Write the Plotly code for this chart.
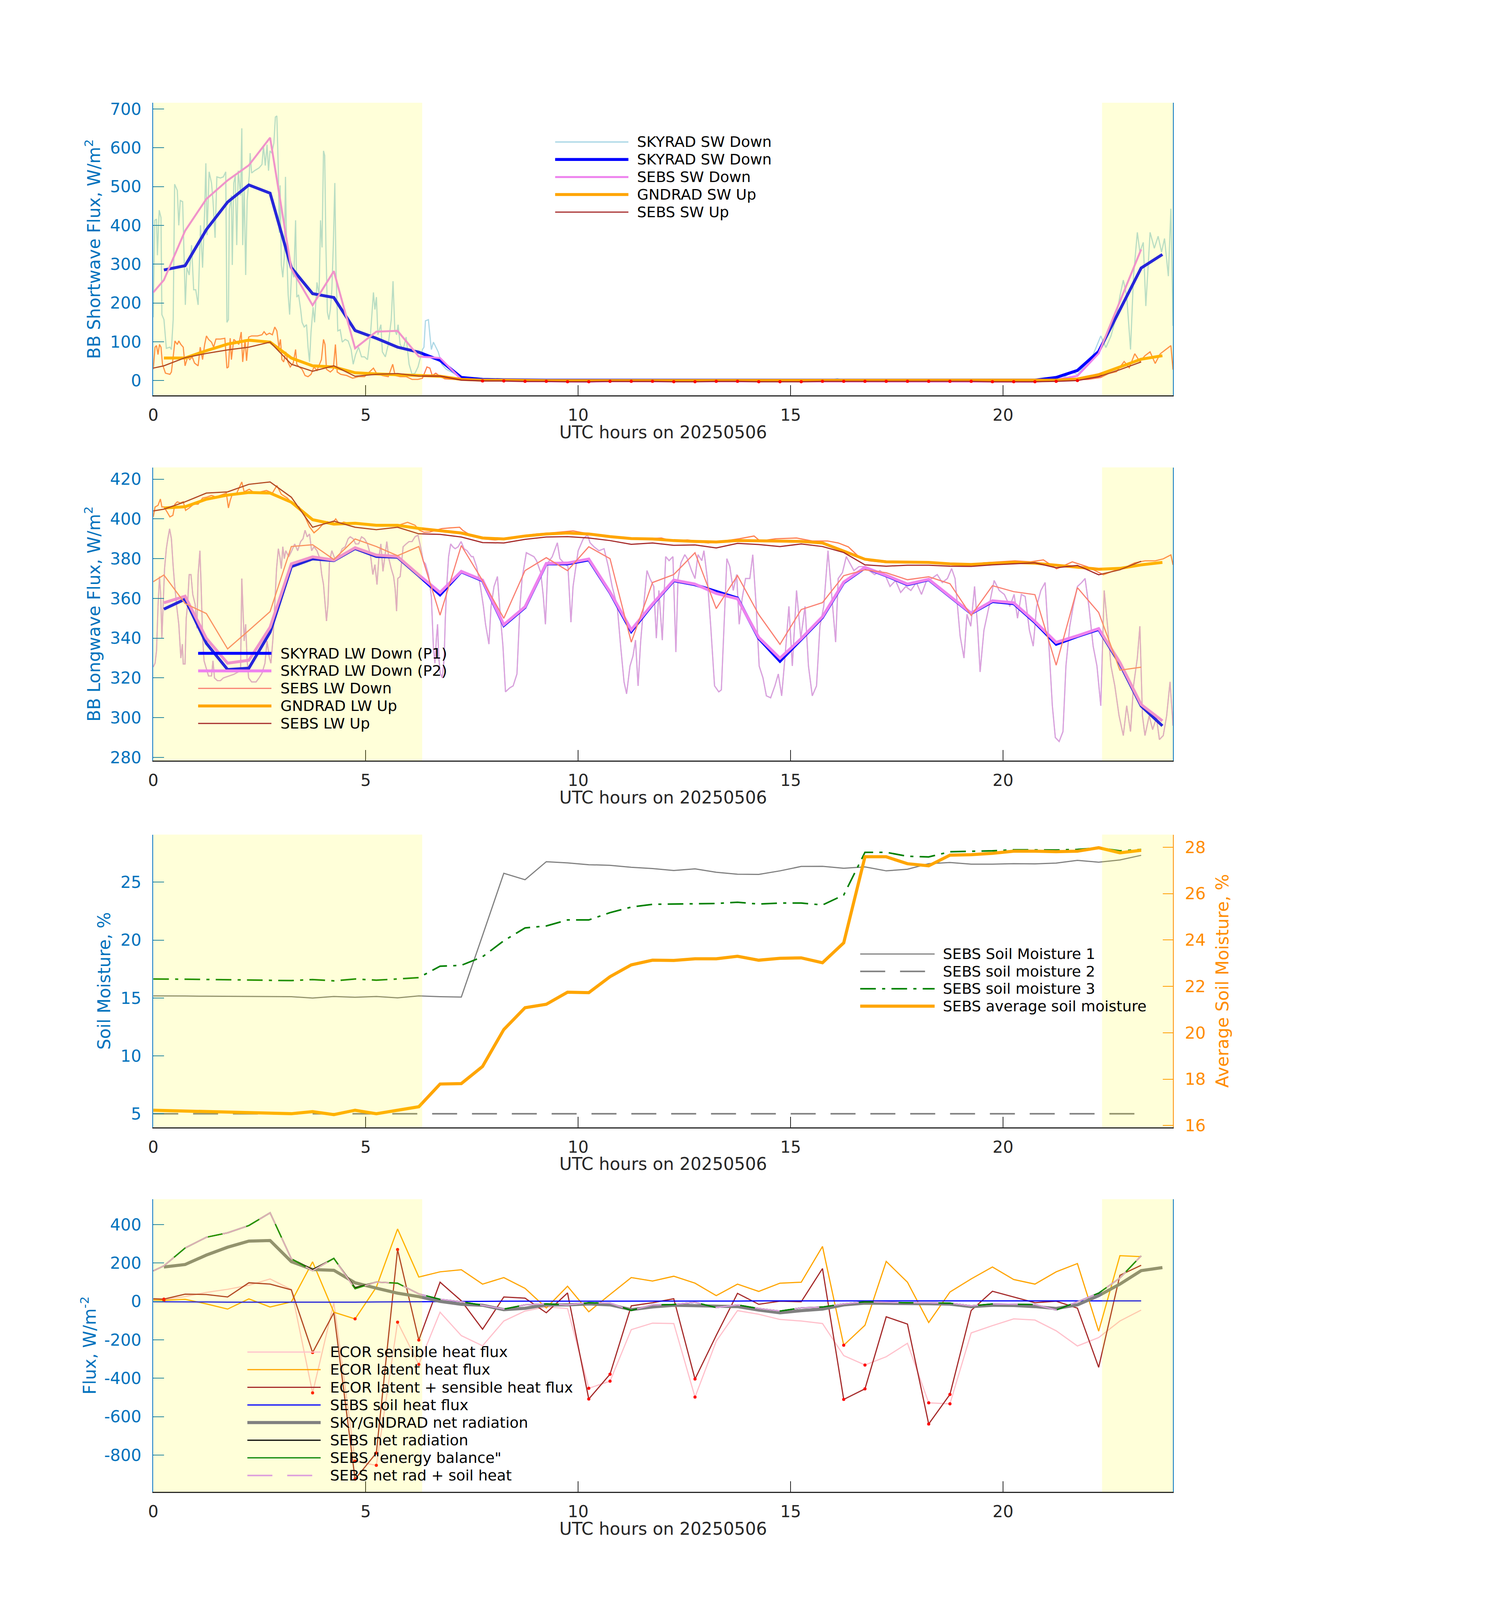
import plotly.graph_objects as go

FONT = "DejaVu Sans"
W, H = 3825, 4875          # reference frame used to place layout elements (converted to paper fractions)
BLUE_AX = "#0072BD"
DARK = "#262626"
ORANGE_AX = "#FF8C00"

# ---------------- time grids (UTC hours) ----------------
T_SKY = [0.25, 0.75, 1.25, 1.75, 2.25, 2.75, 3.25, 3.75, 4.25, 4.75, 5.25, 5.75,
         6.25, 6.75, 7.25, 7.75, 8.25, 8.75, 9.25, 9.75, 10.25, 10.75, 11.25, 11.75,
         12.25, 12.75, 13.25, 13.75, 14.25, 14.75, 15.25, 15.75, 16.25, 16.75, 17.25, 17.75,
         18.25, 18.75, 19.25, 19.75, 20.25, 20.75, 21.25, 21.75, 22.25, 22.75, 23.25, 23.75]
T_SEBS = [0.0, 0.25, 0.75, 1.25, 1.75, 2.25, 2.75, 3.25, 3.75, 4.25, 4.75, 5.25, 5.75,
          6.25, 6.75, 7.25, 7.75, 8.25, 8.75, 9.25, 9.75, 10.25, 10.75, 11.25, 11.75,
          12.25, 12.75, 13.25, 13.75, 14.25, 14.75, 15.25, 15.75, 16.25, 16.75, 17.25, 17.75,
          18.25, 18.75, 19.25, 19.75, 20.25, 20.75, 21.25, 21.75, 22.25, 22.75, 23.25]
X_TICKS = [0, 5, 10, 15, 20]
NIGHT_SHADE = [(0.0, 6.33), (22.33, 24.0)]

# ---------------- panel 1: shortwave ----------------
RAW_SW_DOWN = [(0.0, 163), (0.035, 413), (0.077, 416), (0.098, 323), (0.14, 439), (0.182, 420), (0.203, 170),
    (0.252, 157), (0.308, 83), (0.392, 86), (0.427, 80), (0.469, 157), (0.503, 506), (0.566, 490), (0.601, 400),
    (0.636, 464), (0.692, 461), (0.72, 349), (0.755, 195), (0.79, 291), (0.846, 272), (0.902, 349), (0.951, 234),
    (1.0, 234), (1.056, 195), (1.112, 400), (1.161, 291), (1.21, 439), (1.238, 560), (1.266, 375), (1.315, 538),
    (1.371, 509), (1.406, 464), (1.455, 368), (1.497, 525), (1.58, 522), (1.65, 525), (1.706, 538), (1.734, 150),
    (1.769, 157), (1.79, 439), (1.839, 477), (1.86, 298), (1.895, 509), (1.93, 528), (1.965, 349), (2.0, 541),
    (2.056, 477), (2.084, 650), (2.105, 349), (2.14, 496), (2.175, 272), (2.21, 464), (2.259, 528), (2.28, 586),
    (2.315, 535), (2.385, 541), (2.49, 548), (2.559, 557), (2.594, 605), (2.636, 554), (2.678, 608), (2.713, 541),
    (2.748, 592), (2.79, 586), (2.839, 612), (2.874, 679), (2.909, 682), (2.944, 541), (2.965, 381), (2.986, 503),
    (3.014, 298), (3.049, 266), (3.084, 317), (3.112, 525), (3.14, 336), (3.175, 221), (3.21, 170), (3.259, 285),
    (3.308, 266), (3.35, 413), (3.378, 215), (3.42, 221), (3.469, 183), (3.503, 150), (3.552, 138), (3.608, 144),
    (3.643, 86), (3.678, 48), (3.713, 125), (3.762, 189), (3.797, 150), (3.853, 253), (3.902, 221), (3.937, 413),
    (3.972, 343), (4.007, 592), (4.035, 580), (4.063, 349), (4.098, 176), (4.133, 157), (4.168, 183), (4.203, 234),
    (4.238, 349), (4.273, 509), (4.301, 285), (4.343, 128), (4.399, 131), (4.448, 99), (4.517, 106), (4.587, 102),
    (4.657, 80), (4.706, 42), (4.762, 67), (4.832, 86), (4.902, 61), (4.972, 61), (5.042, 54), (5.112, 118),
    (5.182, 227), (5.217, 183), (5.252, 215), (5.287, 118), (5.357, 144), (5.392, 74), (5.462, 61), (5.531, 93),
    (5.601, 157), (5.643, 256), (5.685, 131), (5.727, 118), (5.762, 144), (5.811, 93), (5.881, 80), (5.951, 112),
    (6.021, 42), (6.091, 16), (6.161, 19), (6.231, 35), (6.336, 80), (6.371, 86), (6.406, 154), (6.476, 157),
    (6.51, 118), (6.545, 80), (6.594, 99), (6.65, 86), (6.706, 74), (6.79, 42), (6.895, 29), (7.07, 19),
    (7.245, 6), (7.545, 1), (8.0, 1), (10.0, 1), (12.0, 1), (14.0, 1), (16.0, 2), (16.1, 5), (16.2, 1), (18.0, 1),
    (20.0, 1), (21.0, 2), (21.38, 4), (21.63, 23), (21.75, 15), (22.11, 64), (22.3, 115), (22.42, 85),
    (22.54, 115), (22.67, 167), (22.75, 218), (22.83, 259), (22.91, 218), (23.0, 80), (23.07, 269), (23.16, 382),
    (23.22, 331), (23.3, 356), (23.36, 192), (23.46, 382), (23.56, 341), (23.65, 372), (23.73, 331), (23.8, 366),
    (23.89, 269), (23.95, 443), (24.0, 141)]
RAW_GND_SW_UP = [(0.0, 29), (0.042, 86), (0.077, 90), (0.112, 67), (0.147, 93), (0.182, 86), (0.217, 42),
    (0.287, 19), (0.392, 16), (0.427, 22), (0.469, 61), (0.51, 102), (0.566, 93), (0.601, 102), (0.65, 93),
    (0.706, 86), (0.748, 38), (0.811, 61), (0.86, 54), (0.916, 61), (0.972, 45), (1.056, 38), (1.105, 86),
    (1.161, 54), (1.21, 93), (1.252, 115), (1.301, 106), (1.371, 99), (1.42, 86), (1.476, 107), (1.58, 107),
    (1.685, 109), (1.734, 32), (1.769, 35), (1.811, 109), (1.839, 54), (1.895, 106), (1.965, 99), (2.014, 93),
    (2.07, 125), (2.105, 48), (2.161, 106), (2.196, 51), (2.245, 112), (2.315, 115), (2.455, 115), (2.559, 118),
    (2.608, 126), (2.664, 118), (2.734, 122), (2.804, 118), (2.86, 138), (2.909, 128), (2.958, 86), (2.993, 106),
    (3.028, 54), (3.07, 48), (3.119, 74), (3.168, 48), (3.224, 35), (3.294, 45), (3.35, 80), (3.378, 42),
    (3.434, 35), (3.503, 29), (3.573, 13), (3.643, 10), (3.713, 16), (3.783, 35), (3.853, 26), (3.958, 54),
    (4.007, 106), (4.042, 93), (4.077, 29), (4.168, 22), (4.238, 29), (4.287, 93), (4.329, 22), (4.413, 16),
    (4.552, 13), (4.692, 6), (4.832, 10), (4.972, 10), (5.182, 32), (5.252, 19), (5.392, 13), (5.531, 10),
    (5.636, 42), (5.692, 13), (5.811, 10), (5.951, 10), (6.091, 3), (6.231, 3), (6.336, 6), (6.441, 35),
    (6.51, 32), (6.566, 13), (6.65, 19), (6.72, 13), (6.86, 4.5), (7.07, 3), (7.545, 0), (9.0, 0), (12.0, 0),
    (15.0, 0), (18.0, 0), (21.0, 0), (22.0, 3), (22.3, 8), (22.48, 18), (22.67, 23), (22.85, 49), (22.97, 33),
    (23.1, 69), (23.22, 49), (23.34, 64), (23.46, 74), (23.58, 44), (23.7, 69), (23.83, 80), (23.95, 90), (24.0, 28)]
SKY_SW_DOWN = [285, 296, 389, 460, 504, 483, 291, 224, 214, 129, 109, 86, 73, 52, 8, 3, 2, 1, 1, 1, 1, 2, 2, 1,
               1, 1, 2, 1, 1, 1, 1, 1, 2, 2, 2, 2, 2, 2, 2, 2, 1, 1, 8, 26, 75, 182, 290, 325]
SEBS_SW_DOWN = [227, 259, 386, 468, 516, 555, 626, 288, 194, 282, 83, 126, 128, 62, 58, 3, 1, -1, -2, -2, -3, -3,
                -2, -2, -2, -3, -3, -2, -2, -3, -3, -3, -3, -2, -2, -2, -2, -2, -2, -2, -2, -3, -3, 2, 12, 70, 205, 338]
GND_SW_UP = [58, 58, 77, 94, 104, 99, 58, 38, 35, 20, 17, 15, 13, 11, 3, 1, 1, 0, 0, 0, 0, 1, 1, 1, 0, 0, 0, 0,
             0, 0, 0, 0, 1, 1, 1, 1, 1, 1, 1, 1, 0, 0, 1, 4, 15, 35, 55, 64]
SEBS_SW_UP = [32, 38, 59, 70, 79, 86, 99, 42, 24, 38, 11, 16, 18, 11.5, 11.5, 1.3, -1, -1, -2, -2, -3, -3, -2, -2,
              -2, -3, -3, -2, -2, -3, -3, -3, -2, -2, -2, -2, -2, -2, -2, -2, -3, -3, -3, -2, 0, 10, 28, 48]
SEBS_SW_UP_FLAG = [0, 0, 0, 0, 0, 0, 0, 0, 0, 0, 0, 0, 0, 0, 0, 0, 1, 1, 1, 1, 1, 1, 1, 1, 1, 1, 1, 1, 1, 1, 1, 1,
                   1, 1, 1, 1, 1, 1, 1, 1, 1, 1, 1, 1, 1, 0, 0, 0]
SW_TICKS = [0, 100, 200, 300, 400, 500, 600, 700]

# ---------------- panel 2: longwave ----------------
RAW_LW_DOWN = [(0.0, 325.5), (0.042, 327.4), (0.077, 333.6), (0.112, 356), (0.147, 371), (0.175, 362), (0.203, 340),
    (0.231, 356), (0.266, 375), (0.308, 385), (0.343, 390), (0.385, 395), (0.427, 390), (0.469, 376), (0.503, 367),
    (0.552, 356), (0.601, 347), (0.65, 330), (0.685, 337), (0.706, 327), (0.748, 327), (0.776, 350), (0.804, 356),
    (0.846, 372), (0.888, 372), (0.93, 362), (0.986, 357), (1.028, 345), (1.056, 372), (1.098, 384), (1.126, 367),
    (1.161, 341), (1.196, 328.6), (1.245, 325), (1.301, 321), (1.371, 321), (1.406, 328.6), (1.441, 320),
    (1.51, 318.6), (1.58, 318.6), (1.65, 320), (1.72, 320.5), (1.79, 321), (1.895, 321.8), (2.0, 323), (2.056, 325),
    (2.084, 370), (2.112, 356), (2.14, 338.6), (2.175, 347), (2.21, 328.6), (2.245, 320), (2.315, 318), (2.42, 318),
    (2.49, 320), (2.559, 322.4), (2.629, 327.4), (2.678, 338.6), (2.734, 330), (2.769, 327.4), (2.818, 340),
    (2.86, 357), (2.902, 375), (2.944, 385), (2.979, 381), (3.014, 375), (3.049, 386), (3.084, 380), (3.119, 384),
    (3.189, 381), (3.259, 384), (3.329, 387.4), (3.399, 384), (3.469, 388.6), (3.524, 390), (3.573, 394.3),
    (3.622, 391), (3.678, 392.4), (3.727, 384), (3.783, 386), (3.853, 384), (3.923, 380), (3.965, 372), (4.007, 367),
    (4.042, 357), (4.077, 348.6), (4.112, 357), (4.147, 378.6), (4.203, 384), (4.273, 380), (4.329, 381), (4.385, 382),
    (4.448, 385), (4.517, 386), (4.587, 390), (4.636, 391), (4.706, 390), (4.762, 387.4), (4.832, 387.4), (4.902, 391),
    (4.972, 390), (5.042, 387.4), (5.112, 382), (5.168, 372), (5.217, 377), (5.266, 367), (5.308, 380), (5.357, 387.4),
    (5.406, 373.6), (5.448, 381), (5.497, 388.6), (5.545, 380), (5.601, 375), (5.657, 371), (5.692, 365),
    (5.727, 353.6), (5.755, 370), (5.811, 371), (5.881, 386), (5.951, 387.4), (6.021, 388.6), (6.091, 388.6),
    (6.161, 391), (6.231, 391.8), (6.301, 385), (6.357, 378.6), (6.406, 377.4), (6.476, 372), (6.545, 361),
    (6.594, 335), (6.629, 327.4), (6.664, 340), (6.692, 347), (6.72, 330), (6.755, 322.4), (6.804, 320), (6.846, 330),
    (6.874, 350), (6.909, 367), (6.951, 381), (7.0, 387.4), (7.049, 386), (7.105, 385), (7.175, 386), (7.245, 388.6),
    (7.315, 385), (7.385, 384), (7.49, 381), (7.53, 381), (7.61, 376), (7.70, 366), (7.77, 356), (7.82, 347),
    (7.90, 337), (7.95, 356), (8.02, 366), (8.10, 371), (8.17, 351), (8.23, 336), (8.29, 313), (8.39, 315),
    (8.47, 316), (8.56, 322), (8.63, 356), (8.68, 370), (8.78, 383), (8.87, 382), (8.96, 381), (9.02, 379),
    (9.12, 373), (9.18, 361), (9.23, 347), (9.29, 378), (9.39, 381), (9.51, 388), (9.57, 380), (9.66, 378),
    (9.76, 376), (9.83, 348), (9.88, 366), (10.0, 384), (10.12, 390), (10.22, 392), (10.28, 388), (10.37, 386),
    (10.49, 384), (10.61, 385), (10.71, 376), (10.80, 366), (10.92, 356), (11.0, 336), (11.08, 318), (11.14, 312),
    (11.22, 326), (11.29, 331), (11.35, 339), (11.41, 316), (11.47, 338), (11.54, 356), (11.62, 374), (11.69, 370),
    (11.78, 366), (11.84, 340), (11.90, 364), (11.98, 339), (12.06, 381), (12.14, 379), (12.23, 381), (12.30, 333),
    (12.35, 370), (12.42, 378), (12.51, 382), (12.57, 380), (12.67, 374), (12.75, 370), (12.82, 382), (12.91, 379),
    (12.96, 384), (13.04, 370), (13.12, 346), (13.21, 316), (13.31, 313), (13.37, 314), (13.43, 346), (13.50, 380),
    (13.57, 376), (13.65, 364), (13.73, 372), (13.79, 347), (13.86, 360), (13.94, 370), (14.04, 370), (14.11, 382),
    (14.19, 356), (14.26, 326), (14.35, 320), (14.43, 311), (14.53, 310), (14.63, 316), (14.71, 322), (14.79, 311),
    (14.87, 331), (14.96, 356), (15.04, 326), (15.14, 364), (15.24, 340), (15.34, 356), (15.42, 326), (15.51, 311),
    (15.61, 316), (15.69, 346), (15.78, 356), (15.88, 384), (15.95, 366), (16.06, 338), (16.12, 370), (16.22, 373),
    (16.31, 381), (16.39, 378), (16.49, 374), (16.61, 376), (16.73, 376), (16.85, 374), (16.98, 372), (17.10, 374),
    (17.22, 372), (17.34, 366), (17.47, 369), (17.59, 363), (17.71, 366), (17.83, 364), (17.96, 368), (18.08, 362),
    (18.20, 369), (18.32, 370), (18.45, 372), (18.57, 368), (18.69, 370), (18.79, 375), (18.87, 370), (18.99, 341),
    (19.08, 330), (19.15, 352), (19.24, 346), (19.33, 366), (19.40, 346), (19.46, 323), (19.55, 344), (19.67, 356),
    (19.79, 369), (19.91, 364), (20.03, 362), (20.16, 356), (20.26, 362), (20.34, 350), (20.43, 362), (20.52, 361),
    (20.62, 344), (20.71, 336), (20.79, 356), (20.89, 364), (20.99, 368), (21.08, 336), (21.16, 306), (21.23, 290),
    (21.32, 288), (21.41, 293), (21.48, 326), (21.57, 346), (21.65, 356), (21.75, 366), (21.85, 368), (21.93, 370),
    (22.02, 356), (22.12, 336), (22.21, 326), (22.30, 306), (22.38, 364), (22.46, 346), (22.54, 326), (22.63, 316),
    (22.73, 301), (22.83, 291), (22.91, 306), (23.0, 293), (23.07, 316), (23.16, 330), (23.22, 346), (23.28, 301),
    (23.34, 291), (23.44, 301), (23.52, 294), (23.61, 300), (23.68, 289), (23.77, 291), (23.85, 301), (23.93, 318),
    (24.0, 296)]
RAW_GND_LW_UP = [(0.0, 401), (0.042, 406), (0.112, 406.8), (0.168, 410), (0.203, 406), (0.252, 406), (0.322, 403.6),
    (0.392, 401), (0.462, 401.8), (0.51, 407.4), (0.566, 408.6), (0.636, 408), (0.706, 408.6), (0.762, 404.3),
    (0.846, 405.5), (0.951, 407.4), (1.056, 407.4), (1.161, 410.5), (1.266, 411), (1.371, 411.8), (1.476, 411),
    (1.58, 411.8), (1.72, 413), (1.769, 405.5), (1.811, 409.3), (1.86, 412.4), (1.965, 413), (2.084, 418.6),
    (2.14, 413.6), (2.259, 414.9), (2.385, 413), (2.524, 413.6), (2.664, 414.3), (2.804, 413), (2.909, 416.8),
    (3.014, 412.4), (3.154, 410.5), (3.294, 407.4), (3.434, 406), (3.573, 401), (3.678, 396), (3.783, 393),
    (3.888, 394.9), (3.993, 397.4), (4.098, 398.6), (4.203, 397.4), (4.294, 400), (4.378, 397.4), (4.483, 398.4),
    (4.622, 397.6), (4.762, 397.6), (4.972, 397.1), (5.182, 396.8), (5.392, 396.8), (5.601, 396.8), (5.811, 397.1),
    (5.986, 398.3), (6.161, 396.8), (6.266, 394.3), (6.371, 393.3), (6.51, 393.4), (6.65, 394.3), (6.79, 395.1),
    (7.0, 395.5), (7.21, 395.8), (7.28, 394.3), (7.42, 392.4), (7.74, 390), (8.04, 389.4), (8.35, 390),
    (8.65, 391.4), (9.02, 392.4), (9.39, 393), (9.88, 394), (10.12, 393), (10.49, 392), (10.86, 391), (11.22, 390.4),
    (11.59, 390), (11.96, 390.4), (12.2, 388.9), (12.57, 389.4), (13.06, 387.9), (13.43, 388.9), (13.79, 390),
    (14.14, 391.4), (14.28, 388.9), (14.65, 390), (15.14, 390.4), (15.51, 388.9), (15.87, 388.9), (16.12, 387.9),
    (16.36, 385.9), (16.61, 380.9), (16.85, 378.9), (17.22, 378.1), (17.71, 377.9), (18.08, 378.1), (18.45, 377.9),
    (18.81, 376.9), (19.18, 376.4), (19.55, 377.9), (19.91, 378.4), (20.28, 378.9), (20.65, 378.4), (20.95, 379.4),
    (21.26, 374.9), (21.63, 378.4), (21.99, 375.9), (22.36, 371.9), (22.61, 373.9), (22.85, 375.4), (23.1, 377.9),
    (23.34, 378.9), (23.58, 378.9), (23.77, 379.9), (23.95, 381.9), (24.0, 376.9)]
SKY_LW_P1 = [354.6, 359.6, 337.4, 324.2, 324.9, 343.0, 376.0, 379.9, 379.0, 385.1, 381.1, 380.7, 371.4, 361.8,
             373.4, 368.9, 346.4, 355.5, 377.4, 377.4, 379.4, 362.9, 343.4, 356.9, 368.9, 366.9, 363.5, 360.2,
             339.9, 328.4, 339.4, 350.4, 367.9, 375.4, 371.4, 366.9, 369.4, 360.9, 352.4, 358.4, 357.4, 347.9,
             336.9, 340.9, 344.4, 327.0, 305.9, 295.9]
SKY_LW_P2 = [357.8, 361.1, 339.9, 327.4, 328.9, 345.5, 377.4, 380.9, 379.3, 385.5, 381.8, 381.1, 371.8, 363.0,
             373.6, 369.2, 346.8, 355.8, 377.6, 377.8, 379.8, 363.2, 344.2, 357.2, 369.2, 367.2, 362.5, 359.8,
             340.4, 329.9, 339.8, 350.8, 368.2, 375.6, 371.6, 367.2, 369.6, 361.2, 352.6, 358.8, 357.8, 348.4,
             337.9, 341.2, 344.8, 327.8, 306.6, 298.4]
SEBS_LW_DOWN = [368.4, 371.8, 357.4, 352.4, 334.6, 343.9, 353.4, 386.1, 387.0, 379.6, 389.9, 386.1, 381.5, 386.1,
                351.6, 386.6, 369.0, 350.0, 374.0, 380.5, 374.0, 386.0, 380.0, 338.0, 368.0, 372.0, 383.0, 354.9,
                371.5, 351.9, 336.9, 354.4, 357.9, 371.4, 374.4, 372.9, 369.4, 370.9, 367.4, 351.4, 366.4, 363.4,
                361.9, 326.4, 365.4, 352.9, 323.9, 325.4]
GND_LW_UP = [405.5, 406.1, 409.9, 412.0, 413.3, 413.0, 408.4, 399.6, 397.4, 397.8, 396.8, 396.8, 395.2, 393.9,
             392.9, 390.4, 389.9, 391.4, 392.4, 392.9, 392.4, 391.1, 390.1, 389.9, 389.1, 388.7, 388.4, 389.1,
             388.9, 388.7, 388.7, 387.9, 383.9, 379.7, 378.4, 378.1, 378.1, 377.4, 377.1, 377.7, 378.1, 377.7,
             376.7, 375.9, 374.7, 375.1, 376.9, 378.1]
SEBS_LW_UP = [404.0, 404.9, 408.6, 413.0, 413.6, 417.4, 418.6, 410.9, 395.8, 398.9, 395.8, 394.6, 395.8, 392.5,
              392.2, 390.9, 388.1, 387.9, 389.7, 390.9, 391.1, 390.4, 389.1, 387.2, 387.9, 386.7, 386.9, 385.4,
              387.7, 387.1, 386.1, 387.4, 386.1, 383.1, 376.9, 376.2, 376.7, 376.7, 376.2, 376.1, 376.9, 377.4,
              377.9, 375.4, 376.6, 371.9, 374.4, 378.7]
LW_TICKS = [280, 300, 320, 340, 360, 380, 400, 420]

# ---------------- panel 3: soil moisture ----------------
SOIL_M1 = [15.18, 15.18, 15.17, 15.15, 15.14, 15.13, 15.12, 15.11, 14.99, 15.13, 15.06, 15.13, 15.01, 15.18,
           15.11, 15.08, 20.4, 25.77, 25.21, 26.77, 26.67, 26.51, 26.46, 26.29, 26.18, 26.01, 26.15, 25.86,
           25.69, 25.67, 25.98, 26.36, 26.37, 26.2, 26.32, 25.98, 26.12, 26.6, 26.7, 26.56, 26.56, 26.6,
           26.58, 26.65, 26.89, 26.73, 26.92, 27.32]
SOIL_M2 = [5.0, 5.0, 5.0, 5.0, 5.0, 5.0, 5.0, 5.0, 5.0, 5.0, 5.0, 5.0, 5.0, 5.0, 5.0, 5.0, 5.0, 5.0, 5.0, 5.0,
           5.0, 5.0, 5.0, 5.0, 5.0, 5.0, 5.0, 5.0, 5.0, 5.0, 5.0, 5.0, 5.0, 5.0, 5.0, 5.0, 5.0, 5.0, 5.0, 5.0,
           5.0, 5.0, 5.0, 5.0, 5.0, 5.0, 5.0, 5.0]
SOIL_M3 = [16.64, 16.64, 16.62, 16.6, 16.57, 16.55, 16.52, 16.5, 16.59, 16.48, 16.64, 16.54, 16.64, 16.76,
           17.74, 17.82, 18.56, 19.94, 21.05, 21.22, 21.74, 21.74, 22.37, 22.85, 23.09, 23.11, 23.16, 23.16,
           23.27, 23.11, 23.2, 23.2, 23.03, 23.89, 27.58, 27.58, 27.24, 27.18, 27.63, 27.66, 27.71, 27.8,
           27.8, 27.78, 27.83, 27.97, 27.71, 27.83]
SOIL_AVG = [16.66, 16.65, 16.63, 16.61, 16.58, 16.55, 16.53, 16.51, 16.6, 16.47, 16.66, 16.51, 16.66, 16.81,
            17.79, 17.81, 18.55, 20.14, 21.08, 21.23, 21.75, 21.73, 22.42, 22.93, 23.13, 23.12, 23.19, 23.19,
            23.3, 23.13, 23.21, 23.23, 23.02, 23.88, 27.59, 27.59, 27.29, 27.2, 27.66, 27.68, 27.74, 27.83,
            27.83, 27.81, 27.83, 27.98, 27.76, 27.87]
SM_TICKS = [5, 10, 15, 20, 25]
AVG_TICKS = [16, 18, 20, 22, 24, 26, 28]

# ---------------- panel 4: surface energy fluxes ----------------
ECOR_SENSIBLE = [6, 9, 25, 47, 63, 84, 117, 62, -476, -7, -832, -853, -108, -328, -56, -178, -231, -102, -50,
                 -29, -37, -452, -415, -147, -113, -115, -498, -207, -48, -67, -94, -102, -115, -282, -331, -288,
                 -218, -528, -533, -164, -126, -91, -97, -153, -232, -188, -102, -45]
ECOR_LATENT = [8, 6, 11, -13, -40, 13, -29, -2, 206, -56, -91, 74, 377, 127, 154, 165, 90, 124, 68, -34, 79,
               -54, 36, 124, 106, 131, 95, 30, 90, 52, 95, 100, 286, -228, -124, 208, 100, -110, 49, 117, 179,
               114, 90, 154, 197, -155, 238, 233]
ECOR_SUM = [14, 12, 38, 36, 23, 97, 90, 60, -266, -59, -925, -789, 270, -201, 100, 3, -145, 23, 17, -59, 44,
            -508, -379, -23, -7, 14, -404, -177, 42, -15, 1, -2, 171, -510, -455, -80, -118, -638, -484, -47, 53,
            23, -7, 1, -35, -343, 136, 188]
ECOR_SENSIBLE_BAD = [8, 10, 11, 12, 13, 21, 22, 26, 34, 37, 38]
ECOR_LATENT_BAD = [1, 10, 33]
SEBS_SOIL_HEAT = [-2, -2, -3, -3, -4, -4, -5, -5, -5, -4, -4, -3, -3, -2, -1, 0, 0, 1, 1, 1, 1, 2, 2, 2, 2, 2,
                  2, 2, 2, 3, 3, 3, 3, 3, 3, 3, 3, 3, 3, 3, 3, 3, 3, 3, 3, 3, 3, 3]
SKY_NET_RAD = [179, 192, 241, 282, 314, 317, 207, 166, 162, 97, 69, 43, 25, 0, -15, -20, -43, -36, -18, -18,
               -13, -18, -43, -29, -20, -23, -27, -27, -45, -59, -48, -40, -18, -9, -10, -13, -12, -14, -27, -20,
               -21, -27, -37, -18, 30, 90, 160, 176]
SEBS_NET_RAD = [159, 185, 278, 334, 357, 395, 461, 222, 166, 224, 72, 101, 95, 39, 11, -2, -20, -40, -18, -13,
                -18, -7, -9, -47, -18, -16, -5, -32, -18, -37, -50, -34, -29, -13, -2, -4, -7, -7, -9, -23, -13,
                -15, -16, -45, -2, 43, 122, 237]
SEBS_ENERGY_BAL = [159, 185, 278, 334, 357, 395, 461, 222, 160, 224, 66, 101, 95, 39, 11, -2, -20, -40, -18, -13,
                   -18, -7, -9, -47, -18, -16, -5, -32, -18, -37, -50, -34, -29, -13, -2, -4, -7, -7, -9, -23, -13,
                   -15, -16, -45, -2, 43, 122, 237]
SEBS_NET_PLUS_G = [159, 185, 278, 334, 357, 395, 461, 222, 160, 224, 66, 101, 95, 39, 11, -2, -20, -40, -18, -13,
                   -18, -7, -9, -47, -18, -16, -5, -32, -18, -37, -50, -34, -29, -13, -2, -4, -7, -7, -9, -23, -13,
                   -15, -16, -45, -2, 43, 122, 237]
FLUX_TICKS = [-800, -600, -400, -200, 0, 200, 400]
FLUX_TICKTEXT = ["-800", "-600", "-400", "-200", "0", "200", "400"]

# ---------------- layout geometry (reference pixels -> paper fractions) ----------------
PLOT_X0, PLOT_X1 = 374.2, 3005.0
PANELS = [(297.2, 1198.7), (1420.4, 2323.4), (2551.3, 3452.8), (3674.2, 4575.7)]


def px(x):
    return x / W


def py(y):
    return 1 - y / H


def unzip(pairs):
    return [p[0] for p in pairs], [p[1] for p in pairs]


fig = go.Figure()


def line(xs, ys, color, width, xa, ya, dash=None, name=None):
    fig.add_trace(go.Scatter(x=xs, y=ys, mode="lines", name=name, showlegend=False,
                             line=dict(color=color, width=width, dash=dash),
                             xaxis=xa, yaxis=ya, hoverinfo="skip"))


def dots(xs, ys, flags, xa, ya):
    sx = [x for x, f in zip(xs, flags) if f]
    sy = [y for y, f in zip(ys, flags) if f]
    fig.add_trace(go.Scatter(x=sx, y=sy, mode="markers", showlegend=False,
                             marker=dict(color="#FF0000", size=8), xaxis=xa, yaxis=ya, hoverinfo="skip"))


# Panel 1
t, v = unzip(RAW_SW_DOWN)
line(t, v, "#ADD8E6", 3, "x", "y", name="SKYRAD SW Down (raw)")
t, v = unzip(RAW_GND_SW_UP)
line(t, v, "#FF7F50", 3, "x", "y", name="GNDRAD SW Up (raw)")
line(T_SKY, SKY_SW_DOWN, "#0000FF", 7.5, "x", "y", name="SKYRAD SW Down")
line(T_SEBS, SEBS_SW_DOWN, "#EE82EE", 5, "x", "y", name="SEBS SW Down")
line(T_SKY, GND_SW_UP, "#FFA500", 7.5, "x", "y", name="GNDRAD SW Up")
line(T_SEBS, SEBS_SW_UP, "#A52A2A", 3, "x", "y", name="SEBS SW Up")
dots(T_SEBS, SEBS_SW_UP, SEBS_SW_UP_FLAG, "x", "y")

# Panel 2
t, v = unzip(RAW_LW_DOWN)
line(t, v, "#ADD8E6", 3, "x2", "y2", name="SKYRAD LW Down P1 (raw)")
line(t, v, "#DDA0DD", 3, "x2", "y2", name="SKYRAD LW Down P2 (raw)")
t, v = unzip(RAW_GND_LW_UP)
line(t, v, "#FF7F50", 3, "x2", "y2", name="GNDRAD LW Up (raw)")
line(T_SKY, SKY_LW_P1, "#0000FF", 7.5, "x2", "y2", name="SKYRAD LW Down (P1)")
line(T_SKY, SKY_LW_P2, "#EE82EE", 7.5, "x2", "y2", name="SKYRAD LW Down (P2)")
line(T_SEBS, SEBS_LW_DOWN, "#FA8072", 3, "x2", "y2", name="SEBS LW Down")
line(T_SKY, GND_LW_UP, "#FFA500", 7.5, "x2", "y2", name="GNDRAD LW Up")
line(T_SEBS, SEBS_LW_UP, "#A52A2A", 3, "x2", "y2", name="SEBS LW Up")

# Panel 3
line(T_SEBS, SOIL_M1, "#808080", 3, "x3", "y3", name="SEBS Soil Moisture 1")
line(T_SEBS, SOIL_M2, "#808080", 4, "x3", "y3", dash="64px,38px", name="SEBS soil moisture 2")
line(T_SEBS, SOIL_M3, "#008000", 4, "x3", "y3", dash="40px,16px,8px,16px", name="SEBS soil moisture 3")
line(T_SEBS, SOIL_AVG, "#FFA500", 8, "x3", "y5", name="SEBS average soil moisture")

# Panel 4
line(T_SEBS, ECOR_SENSIBLE, "#FFC0CB", 3, "x4", "y4", name="ECOR sensible heat flux")
line(T_SEBS, ECOR_LATENT, "#FFA500", 3, "x4", "y4", name="ECOR latent heat flux")
line(T_SEBS, ECOR_SUM, "#A52A2A", 3, "x4", "y4", name="ECOR latent + sensible heat flux")
line(T_SEBS, SEBS_SOIL_HEAT, "#0000FF", 3, "x4", "y4", name="SEBS soil heat flux")
line(T_SKY, SKY_NET_RAD, "#808080", 8, "x4", "y4", name="SKY/GNDRAD net radiation")
line(T_SEBS, SEBS_NET_RAD, "#000000", 3, "x4", "y4", name="SEBS net radiation")
line(T_SEBS, SEBS_ENERGY_BAL, "#008000", 3.5, "x4", "y4", name='SEBS "energy balance"')
line(T_SEBS, SEBS_NET_PLUS_G, "#DDA0DD", 3.5, "x4", "y4", dash="64px,38px", name="SEBS net rad + soil heat")
sens_flag = [1 if i in ECOR_SENSIBLE_BAD else 0 for i in range(len(T_SEBS))]
lat_flag = [1 if i in ECOR_LATENT_BAD else 0 for i in range(len(T_SEBS))]
sum_flag = [1 if (a or b) else 0 for a, b in zip(sens_flag, lat_flag)]
dots(T_SEBS, ECOR_SENSIBLE, sens_flag, "x4", "y4")
dots(T_SEBS, ECOR_LATENT, lat_flag, "x4", "y4")
dots(T_SEBS, ECOR_SUM, sum_flag, "x4", "y4")

# ---------------- axes ----------------
xdom = [px(PLOT_X0), px(PLOT_X1)]


def xaxis(anchor):
    return dict(domain=xdom, range=[0, 24], tickmode="array", tickvals=X_TICKS, ticks="inside",
                ticklen=27, tickwidth=2, tickcolor=DARK, showline=True, linecolor=DARK, linewidth=2.5,
                tickfont=dict(family=FONT, size=42, color=DARK), showgrid=False, zeroline=False,
                anchor=anchor, ticklabelstandoff=12)


def yaxis(panel, rng, tickvals, ticktext=None, mirror=True, anchor="x"):
    top, bot = PANELS[panel]
    d = dict(domain=[py(bot), py(top)], range=rng, tickmode="array", tickvals=tickvals,
             ticks="inside", ticklen=28, tickwidth=2, tickcolor=BLUE_AX, showline=True,
             linecolor=BLUE_AX, linewidth=2, mirror=mirror,
             tickfont=dict(family=FONT, size=42, color=BLUE_AX), showgrid=False, zeroline=False,
             anchor=anchor, ticklabelstandoff=20)
    if ticktext is not None:
        d["ticktext"] = ticktext
    return d


fig.update_layout(
    autosize=True, margin=dict(l=0, r=0, t=0, b=0),
    paper_bgcolor="white", plot_bgcolor="white",
    font=dict(family=FONT, color=DARK),
    showlegend=False,
    xaxis=xaxis("y"), xaxis2=xaxis("y2"), xaxis3=xaxis("y3"), xaxis4=xaxis("y4"),
    yaxis=yaxis(0, [-38.4, 716], SW_TICKS, anchor="x"),
    yaxis2=yaxis(1, [278.4, 425.9], LW_TICKS, anchor="x2"),
    yaxis3=yaxis(2, [3.83, 29.11], SM_TICKS, mirror=False, anchor="x3"),
    yaxis4=yaxis(3, [-991.3, 532], FLUX_TICKS, ticktext=FLUX_TICKTEXT, anchor="x4"),
    yaxis5=dict(overlaying="y3", side="right", anchor="x3", range=[15.924, 28.546],
                tickmode="array", tickvals=AVG_TICKS, ticks="inside", ticklen=26, tickwidth=2,
                tickcolor=ORANGE_AX, showline=True, linecolor=ORANGE_AX, linewidth=2,
                tickfont=dict(family=FONT, size=42, color=ORANGE_AX), showgrid=False, zeroline=False,
                ticklabelstandoff=20),
)

# ---------------- night shading (drawn over the data, translucent) ----------------
shapes = []
for xa, yd in [("x", "y domain"), ("x2", "y2 domain"), ("x3", "y3 domain"), ("x4", "y4 domain")]:
    for a, b in NIGHT_SHADE:
        shapes.append(dict(type="rect", xref=xa, yref=yd, x0=a, x1=b, y0=0, y1=1,
                           fillcolor="rgba(255,255,0,0.15)", line=dict(width=0), layer="above"))

# ---------------- legends ----------------
annotations = []
LEGENDS = [
    dict(x0=1411, x1=1600, xt=1620, y0=418, dy=54, items=[
        ("SKYRAD SW Down", "#ADD8E6", 3.5, None), ("SKYRAD SW Down", "#0000FF", 7.5, None),
        ("SEBS SW Down", "#EE82EE", 5, None), ("GNDRAD SW Up", "#FFA500", 7.5, None),
        ("SEBS SW Up", "#A52A2A", 3, None)]),
    dict(x0=490, x1=679, xt=700, y0=1993, dy=54, items=[
        ("SKYRAD LW Down (P1)", "#0000FF", 7.5, None), ("SKYRAD LW Down (P2)", "#EE82EE", 7.5, None),
        ("SEBS LW Down", "#FA8072", 3, None), ("GNDRAD LW Up", "#FFA500", 7.5, None),
        ("SEBS LW Up", "#A52A2A", 3, None)]),
    dict(x0=2198, x1=2390, xt=2409, y0=2919, dy=53.6, items=[
        ("SEBS Soil Moisture 1", "#808080", 3, None), ("SEBS soil moisture 2", "#808080", 4, "64px,38px"),
        ("SEBS soil moisture 3", "#008000", 4, "40px,16px,8px,16px"),
        ("SEBS average soil moisture", "#FFA500", 8, None)]),
    dict(x0=617, x1=806, xt=828, y0=4145, dy=54.3, items=[
        ("ECOR sensible heat flux", "#FFC0CB", 3, None), ("ECOR latent heat flux", "#FFA500", 3, None),
        ("ECOR latent + sensible heat flux", "#A52A2A", 3, None), ("SEBS soil heat flux", "#0000FF", 3, None),
        ("SKY/GNDRAD net radiation", "#808080", 8, None), ("SEBS net radiation", "#000000", 3, None),
        ('SEBS "energy balance"', "#008000", 3, None), ("SEBS net rad + soil heat", "#DDA0DD", 4, "64px,38px")]),
]
for lg in LEGENDS:
    for i, (label, color, width, dash) in enumerate(lg["items"]):
        yy = lg["y0"] + i * lg["dy"]
        shapes.append(dict(type="line", xref="paper", yref="paper", x0=px(lg["x0"]), x1=px(lg["x1"]),
                           y0=py(yy), y1=py(yy), line=dict(color=color, width=width, dash=dash)))
        annotations.append(dict(text=label, xref="paper", yref="paper", x=px(lg["xt"]), y=py(yy),
                                xanchor="left", yanchor="middle", showarrow=False,
                                font=dict(family=FONT, size=38, color="#000000")))

# ---------------- axis titles ----------------
XLABEL = "UTC hours on 20250506"
YLABELS = ["BB Shortwave Flux, W/m<sup>2</sup>", "BB Longwave Flux, W/m<sup>2</sup>",
           "Soil Moisture, %", "Flux, W/m<sup>-2</sup>"]
YLABEL_X = [218, 218, 247, 207]
for i, (top, bot) in enumerate(PANELS):
    annotations.append(dict(text=XLABEL, xref="paper", yref="paper", x=px((PLOT_X0 + PLOT_X1) / 2),
                            y=py(bot + 113), xanchor="center", yanchor="middle", showarrow=False,
                            font=dict(family=FONT, size=44, color=DARK)))
    annotations.append(dict(text=YLABELS[i], xref="paper", yref="paper", x=px(YLABEL_X[i]),
                            y=py((top + bot) / 2), xanchor="center", yanchor="middle", showarrow=False,
                            textangle=-90, font=dict(family=FONT, size=44, color=BLUE_AX)))
top, bot = PANELS[2]
annotations.append(dict(text="Average Soil Moisture, %", xref="paper", yref="paper", x=px(3132),
                        y=py((top + bot) / 2), xanchor="center", yanchor="middle", showarrow=False,
                        textangle=-90, font=dict(family=FONT, size=44, color=ORANGE_AX)))

fig.update_layout(shapes=shapes, annotations=annotations)
# The figure fills the browser viewport so that nothing is clipped at the bottom edge.
fig.write_html("out.html", default_width="calc(100vw - 16px)", default_height="calc(100vh - 16px)")
